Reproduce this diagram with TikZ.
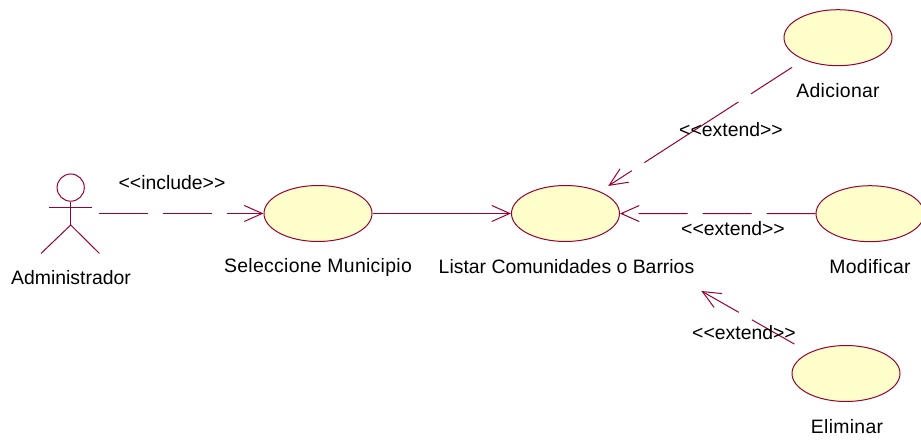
\documentclass[tikz,border=0pt]{standalone}
\usepackage{fontspec}
\setmainfont{Liberation Sans}
\usetikzlibrary{shapes.geometric,arrows.meta}
\definecolor{rosered}{HTML}{990033}
\definecolor{roseyellow}{HTML}{FFFFCC}

\begin{document}
\begin{tikzpicture}[x=0.5pt,y=-0.5pt,
        usecase/.style={ellipse,draw=rosered,fill=roseyellow,line width=0.5pt,inner sep=0pt,minimum width=54pt,minimum height=28pt},
        caption/.style={font=\fontsize{9.7}{11}\selectfont,text=black,inner sep=0pt},
        widecaption/.style={caption,font=\fontsize{9.7}{11}\selectfont\addfontfeature{LetterSpace=1.6}},
        actorline/.style={draw=rosered,line width=0.5pt},
        relation/.style={actorline,-{Straight Barb[length=9pt,width=8pt,line width=0.5pt]}},
        dashline/.style={relation,dash pattern=on 24.5pt off 7.5pt}]

            \useasboundingbox (0,0) rectangle (921,442);

            \foreach \name/\x/\y in {seleccione/318/213.5,listar/565.5/213.5,adicionar/838/37.7,modificar/870/213.7,eliminar/846/373.5} {
                \node (\name) at (\x,\y) [usecase] {};
            }

            \node (head) at (70.7,187.6) [circle,actorline,inner sep=0pt,minimum size=13.6pt] {};
            \coordinate (armL) at (49,207.3);
            \coordinate (armR) at (91.5,207.3);
            \coordinate (hip) at (70.7,225);
            \coordinate (footL) at (41,253.5);
            \coordinate (footR) at (99.5,253.5);
            \coordinate (actorEnd) at (98.5,213.5);
            \draw[actorline] (head.south) -- (hip);
            \draw[actorline] (armL) -- (armR);
            \draw[actorline] (footL) -- (hip) -- (footR);

            \draw[dashline] (actorEnd) -- (seleccione);
            \draw[relation] (seleccione) -- (listar);
            \draw[relation,dash pattern=on 24.4pt off 7.5pt on 56pt off 7.5pt,shorten <=6.9pt,shorten >=5pt] (adicionar) -- (listar);
            \draw[dashline] (modificar) -- (listar);
            \draw[dashline,shorten <=8.5pt,shorten >=57pt] (eliminar) -- (listar);

            \node (administrador) at (71,278) [caption] {Administrador};
            \node (seleccioneText) at (318,267) [widecaption] {Seleccione Municipio};
            \node (listarText) at (566.5,267) [caption] {Listar Comunidades o Barrios};
            \node (adicionarText) at (838,91) [widecaption] {Adicionar};
            \node (modificarText) at (870,267) [widecaption] {Modificar};
            \node (eliminarText) at (847,427) [widecaption] {Eliminar};
            \node (includeText) at (172,183) [caption] {<{}<include>{}>};
            \node (extendA) at (731,130) [caption] {<{}<extend>{}>};
            \node (extendB) at (733,229) [caption] {<{}<extend>{}>};
            \node (extendC) at (744,333) [caption] {<{}<extend>{}>};

        \end{tikzpicture}
\end{document}
